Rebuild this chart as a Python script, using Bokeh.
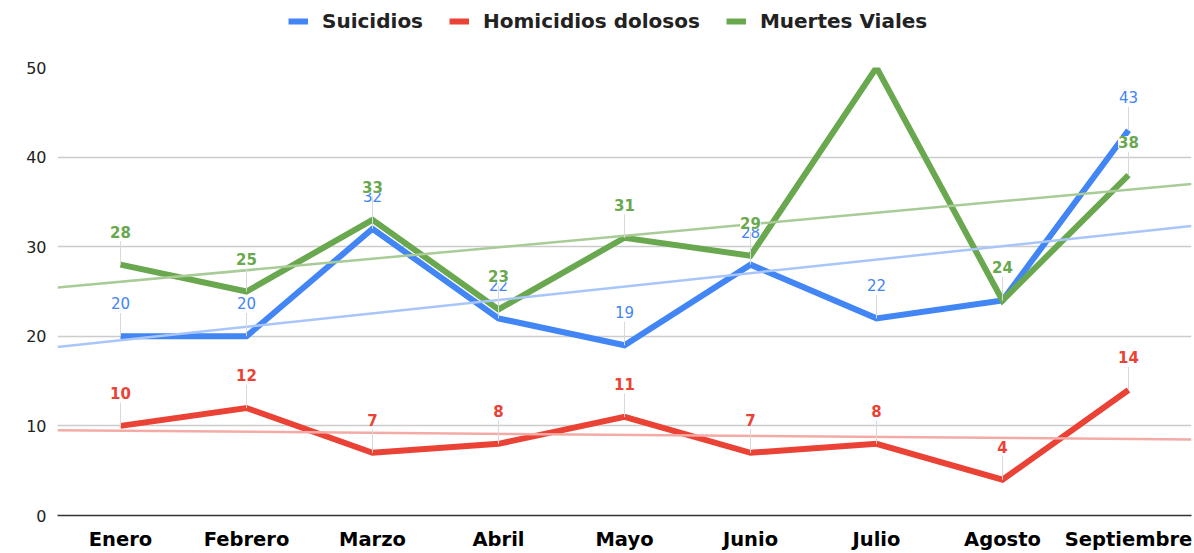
from bokeh.plotting import figure
from bokeh.models import Range1d, FixedTicker, Legend, LegendItem, ColumnDataSource
from bokeh.layouts import column
from bokeh.core.properties import value
from bokeh.embed import file_html
from bokeh.resources import INLINE
import numpy as np

months = ["Enero", "Febrero", "Marzo", "Abril", "Mayo", "Junio", "Julio", "Agosto", "Septiembre"]
suicidios = [20, 20, 32, 22, 19, 28, 22, 24, 43]
homicidios = [10, 12, 7, 8, 11, 7, 8, 4, 14]
viales = [28, 25, 33, 23, 31, 29, 50, 24, 38]
series_names = ["Suicidios", "Homicidios dolosos", "Muertes Viales"]
series_values = [suicidios, homicidios, viales]
colors = ["#4285F4", "#EA4335", "#6AA84F"]
trend_colors = ["#A9C6FA", "#F5ABA5", "#A9CB98"]
label_weights = ["normal", "bold", "bold"]
y_ticks = [0, 10, 20, 30, 40, 50]

FONT = "DejaVu Sans"
n = len(months)
xs = list(range(n))
y_max = max(y_ticks)

W = 1194
LEG_H = 59

p = figure(width=W, height=553 - LEG_H,
           x_range=Range1d(-0.5, n - 0.5), y_range=Range1d(0, y_max),
           output_backend="svg", toolbar_location=None,
           min_border_left=57, min_border_right=3, min_border_bottom=34, min_border_top=8)
p.outline_line_color = None
p.background_fill_color = "white"

# axes
p.xaxis.ticker = FixedTicker(ticks=xs)
p.xaxis.major_label_overrides = {i: m for i, m in enumerate(months)}
p.xaxis.major_label_text_font = FONT
p.xaxis.major_label_text_font_style = "bold"
p.xaxis.major_label_text_font_size = "19.5px"
p.xaxis.major_label_text_color = "#000000"
p.xaxis.axis_line_color = "#333333"
p.xaxis.axis_line_width = 1.5
p.xaxis.major_tick_line_color = None
p.xaxis.minor_tick_line_color = None
p.xaxis.major_tick_out = 0
p.xaxis.major_label_standoff = 12

p.yaxis.ticker = FixedTicker(ticks=y_ticks)
p.yaxis.major_label_text_font = FONT
p.yaxis.major_label_text_font_size = "16px"
p.yaxis.major_label_text_color = "#222222"
p.yaxis.axis_line_color = None
p.yaxis.major_tick_line_color = None
p.yaxis.minor_tick_line_color = None
p.yaxis.major_tick_out = 0
p.yaxis.major_label_standoff = 11

p.xgrid.grid_line_color = None
p.ygrid.grid_line_color = "#CCCCCC"
p.ygrid.grid_line_width = 1.5

for name, vals, c in zip(series_names, series_values, colors):
    p.line(xs, vals, line_color=c, line_width=6, line_join="miter")

# trendlines (least squares fit of each series)
x_ext = [-0.5, n - 0.5]
for vals, tc in zip(series_values, trend_colors):
    slope, intercept = np.polyfit(xs, vals, 1)
    p.line(x_ext, [intercept + slope * x for x in x_ext], line_color=tc, line_width=2.5)

# leader lines and data labels (labels that would fall above the plot area are not shown)
label_sources = []
for vals in series_values:
    keep = [i for i, v in enumerate(vals) if v < y_max]
    label_sources.append(ColumnDataSource(dict(
        x=[xs[i] for i in keep], y=[vals[i] for i in keep],
        y1=[vals[i] + 2.6 for i in keep], t=[str(vals[i]) for i in keep])))

for src in label_sources:
    p.segment(x0="x", y0="y", x1="x", y1="y1", source=src,
              line_color="#D9D9D9", line_width=1)
for i, (src, c, w) in enumerate(zip(label_sources, colors, label_weights)):
    kw = {}
    if i == 2:
        kw = dict(background_fill_color="white", padding=0)
    p.text(x="x", y="y", text="t", source=src, y_offset=-33,
           text_align="center", text_baseline="middle",
           text_font=value(FONT), text_font_size="15px", text_font_style=w,
           text_color=c, **kw)

# legend strip above the chart
lg = figure(width=W, height=LEG_H, x_range=Range1d(0, 1), y_range=Range1d(0, 1),
            output_backend="svg", toolbar_location=None,
            min_border_left=0, min_border_right=0, min_border_top=0, min_border_bottom=0)
lg.axis.visible = False
lg.grid.visible = False
lg.outline_line_color = None
leg_renderers = [lg.line(x=[5, 6], y=[5, 5], line_color=c, line_width=6) for c in colors]

legend = Legend(items=[LegendItem(label=nm, renderers=[r]) for nm, r in zip(series_names, leg_renderers)],
                orientation="horizontal", location=(231, 26))
legend.label_text_font = FONT
legend.label_text_font_style = "bold"
legend.label_text_font_size = "20px"
legend.label_text_color = "#222222"
legend.glyph_width = 20
legend.glyph_height = 20
legend.label_height = 20
legend.spacing = 26
legend.label_standoff = 14
legend.border_line_color = None
legend.background_fill_alpha = 0
legend.padding = 0
legend.margin = 0
lg.add_layout(legend)

layout = column(lg, p, spacing=0)
open("out.html", "w").write(file_html(layout, INLINE))
